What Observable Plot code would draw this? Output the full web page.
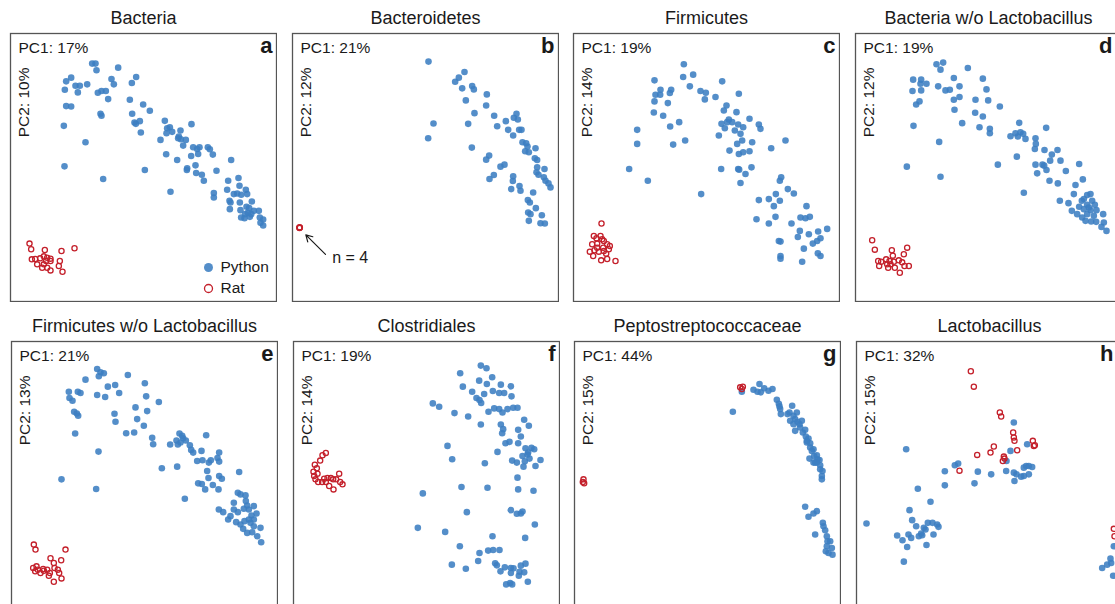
<!DOCTYPE html>
<html><head><meta charset="utf-8">
<script src="https://cdn.jsdelivr.net/npm/d3@7"></script>
<script src="https://cdn.jsdelivr.net/npm/@observablehq/plot@0.6"></script>
<style>
html,body{margin:0;padding:0;background:#fff;width:1115px;height:604px;overflow:hidden;}
#root{position:relative;width:1115px;height:604px;overflow:hidden;}
.panel{position:absolute;}
</style></head><body><div id="root"></div>
<script>
// Panel metadata
const titles = ["Bacteria","Bacteroidetes","Firmicutes","Bacteria w/o Lactobacillus",
  "Firmicutes w/o Lactobacillus","Clostridiales","Peptostreptococcaceae","Lactobacillus"];
const letters = ["a","b","c","d","e","f","g","h"];
const pc1Labels = ["PC1: 17%","PC1: 21%","PC1: 19%","PC1: 19%","PC1: 21%","PC1: 19%","PC1: 44%","PC1: 32%"];
const pc2Labels = ["PC2: 10%","PC2: 12%","PC2: 14%","PC2: 12%","PC2: 13%","PC2: 14%","PC2: 15%","PC2: 15%"];
// score-axis extents (PC1 min, PC2 min) for each panel, arbitrary units
const pc1Min = [30,36,39,45,33,38,43,48];
const pc2Min = [100,100,100,100,108,108,108,108];
const legendLabels = ["Python","Rat"];
const annotationText = "n = 4";

// PC scores (PC1, PC2 flipped: larger = lower)
const aPython = [[275,190],[285,190],[288,210],[353,202],[197,243],[212,232],[193,268],[225,256],[238,256],[232,276],[260,252],
[333,236],[340,252],[407,230],[394,248],[292,277],[303,272],[316,272],[323,296],[197,317],[212,318],[190,376],[300,340],[303,346],
[388,298],[428,312],[448,331],[395,340],[402,366],[406,370],[418,362],[421,396],[255,425],[192,497],[308,535],
[493,361],[500,383],[508,380],[515,394],[498,398],[540,390],[535,408],[533,413],[541,416],[573,371],[480,418],
[497,461],[530,478],[548,435],[556,418],[578,440],[590,445],[597,440],[593,460],[585,494],[560,503],[559,508],[587,517],[604,522],[610,540],[622,440],[628,446],[637,462],[572,466],
[433,508],[510,573],[648,510],[640,577],[640,590],[692,478],[714,532],[717,555],[683,540],[680,567],[700,580],[710,578],[722,582],[740,580],[736,567],[687,600],[690,605],[718,605],[720,628],[688,625],[738,618],[746,622],[754,602],[742,636],[734,640],[722,650],[732,652],[748,648],[775,630],[778,650],[788,656],[780,666],[788,674],[760,630],[752,640]];
const aRat = [[87,728],[92,745],[133,747],[183,750],[222,742],[94,775],[104,774],[119,772],[130,766],[140,770],[150,773],[137,780],[110,790],[130,790],[150,780],[140,800],[150,808],[175,795],[178,780],[186,812],[125,800]];

const bPython = [[444,184],[524,244],[535,232],[552,215],[545,264],[575,257],[580,267],[619,282],[556,300],[617,315],[582,338],[459,369],[443,413],[563,370],[574,441],
[641,346],[650,377],[676,362],[683,388],[700,352],[708,340],[712,357],[716,388],[723,388],[698,405],[726,425],[737,428],[741,438],[734,452],[765,443],[763,473],[745,455],
[626,465],[617,477],[660,498],[672,492],[640,523],[627,535],[698,527],[697,541],[717,556],[692,565],[720,570],[758,575],
[770,478],[770,500],[792,505],[768,515],[774,522],[790,530],[795,540],[810,560],[804,548],
[742,598],[748,605],[766,622],[743,635],[750,640],[745,660],[784,643],[780,667],[793,668]];
const bRat = [[57,680],[57,680],[57,681],[58,680]];
const bArrow = [{from:[135,760], to:[76,702], label:[155,771]}];

const cPython = [[370,192],[368,230],[398,223],[388,258],[485,243],[282,240],[300,268],[332,268],[285,283],[299,283],[328,278],[282,303],[322,308],[280,336],[308,346],[329,378],[356,365],[230,388],[230,430],[338,432],[374,420],[206,505],[262,540],[422,580],
[420,272],[436,277],[433,297],[465,290],[535,280],[498,315],[490,330],[528,335],[505,357],[483,370],[493,383],[475,405],[500,365],[515,365],[533,372],[548,380],[567,355],[595,372],[600,385],[523,390],[540,400],[545,420],[575,425],[507,450],[530,430],[535,460],[548,455],[567,452],[632,443],[675,420],[482,505],[533,505],[536,507],[573,500],[555,520],[540,547],
[662,530],[658,540],[682,565],[700,578],[646,580],[658,600],[595,598],[625,595],[640,616],[645,648],[588,655],[625,668],[693,668],[720,650],[735,652],[748,648],[738,616],[718,690],[745,700],[773,692],[712,708],[800,684],[655,720],[660,722],[770,720],[780,712],[757,728],[730,743],[660,765],[660,773],[725,782],[772,757],[780,765]];
const cRat = [[123,668],[100,705],[108,712],[120,705],[125,715],[95,730],[110,728],[130,720],[140,730],[148,735],[88,752],[102,748],[115,752],[130,750],[145,745],[137,758],[98,765],[122,778],[140,774],[165,780],[110,740],[128,740]];

const dPython = [[288,192],[308,187],[300,208],[382,203],[218,238],[242,238],[216,272],[242,270],[258,250],[240,250],[293,258],[315,270],[328,268],[340,233],[357,258],[427,235],[438,267],[340,298],[357,290],[227,312],[237,303],[342,328],[405,298],[443,300],[478,318],[404,337],[427,348],[219,376],[365,368],[417,380],[448,385],[448,398],[296,424],[199,498],[300,528],
[536,367],[510,407],[525,398],[532,408],[540,395],[548,400],[555,415],[585,413],[617,382],[586,430],[583,445],[612,448],[634,462],[651,448],[629,480],[606,492],[611,495],[660,480],[585,492],[590,518],[618,508],[627,540],[652,548],[676,511],[716,490],[472,492],[529,468],[550,576],[705,553],[727,536],
[700,580],[658,600],[684,607],[694,630],[716,618],[724,600],[740,583],[750,580],[730,595],[740,612],[755,600],[763,612],[750,628],[768,628],[740,640],[725,650],[735,660],[752,662],[767,663],[788,640],[790,665],[783,678],[798,690],[760,645],[745,620],[710,640],[730,625]];
const dRat = [[95,718],[103,746],[154,748],[200,740],[157,764],[113,780],[122,782],[137,775],[147,780],[160,782],[116,795],[143,800],[150,790],[175,778],[185,784],[192,795],[205,795],[140,790],[178,815],[163,800],[190,760]];

const ePython = [[290,190],[300,200],[310,203],[295,212],[382,208],[255,222],[322,243],[344,238],[433,233],[205,258],[232,258],[240,262],[207,277],[216,285],[290,268],[314,274],[356,262],[437,272],[475,289],[221,318],[229,323],[233,330],[342,324],[345,348],[405,305],[440,316],[410,340],[430,360],[377,382],[401,380],[224,383],[455,396],[458,415],[294,437],[183,520],[287,549],
[509,416],[528,404],[537,383],[545,390],[548,397],[556,404],[532,416],[540,410],[568,418],[572,432],[578,440],[590,465],[603,435],[617,388],[606,463],[625,470],[631,463],[656,440],[651,456],[656,467],[620,495],[624,516],[656,510],[664,518],[716,498],[484,487],[530,482],[593,532],[604,534],[637,537],[614,550],[654,550],[553,578],
[712,560],[720,565],[735,568],[700,590],[740,598],[760,600],[745,610],[730,608],[768,622],[753,628],[700,610],[712,618],[655,610],[668,618],[683,640],[690,630],[707,648],[720,655],[732,645],[750,650],[760,660],[780,665],[740,680],[755,678],[770,690],[782,708],[728,668],[745,640],[760,640],[736,585]];
const eRat = [[100,715],[105,730],[195,730],[150,756],[182,762],[160,770],[98,785],[104,795],[112,790],[120,800],[130,793],[140,790],[148,800],[162,785],[172,790],[176,800],[160,826],[183,816],[108,780],[128,788],[145,808]];

const fPython = [[600,180],[617,188],[538,203],[595,225],[634,215],[618,235],[660,237],[690,242],[546,243],[574,258],[610,265],[636,256],[655,262],[670,262],[692,272],[587,277],[596,283],[601,292],[456,293],[475,303],[521,322],[562,332],[623,318],[640,308],[655,310],[665,320],[680,310],[697,306],[710,306],[600,356],[660,356],[667,370],[730,342],[744,360],[712,372],[664,382],[720,392],[712,412],[500,420],[514,460],[612,472],[650,438],[674,412],[686,408],[734,427],[752,426],[760,430],[742,440],[725,450],[746,458],[732,466],[779,462],[694,464],[708,470],[728,482],[764,480],[740,446],[710,515],
[426,562],[542,543],[620,545],[712,550],[758,554],[558,618],[690,612],[708,623],[720,622],[725,616],[762,655],[411,665],[493,677],[635,690],[733,695],
[537,720],[596,740],[622,733],[637,731],[656,731],[592,764],[643,771],[648,777],[513,775],[555,787],[672,783],[690,785],[698,786],[720,778],[734,772],[659,795],[690,800],[716,796],[730,798],[676,834],[688,830],[694,834],[741,826],[714,808]];
const fRat = [[135,441],[125,448],[118,464],[102,476],[108,487],[98,497],[110,503],[100,510],[104,520],[112,528],[130,518],[140,516],[150,516],[157,520],[166,520],[175,503],[178,528],[185,535],[135,528],[145,540],[158,550],[124,528]];

const gPython = [[518,318],[545,258],[580,252],[598,235],[612,248],[625,255],[592,258],[602,260],[637,250],[650,282],[656,294],[660,310],[662,325],[658,302],[682,325],[696,300],[688,320],[690,345],[700,330],[710,320],[705,340],[712,348],[705,375],[718,355],[720,365],[725,345],[728,380],[735,372],[737,392],[740,405],[745,398],[750,412],[750,425],[748,458],[755,435],[760,430],[762,450],[770,448],[772,460],[765,470],[778,462],[780,478],[780,490],[787,495],[785,510],[785,520],[770,470],[760,470],[740,410],[700,355],
[735,602],[745,632],[760,622],[770,615],[788,650],[790,660],[795,672],[765,685],[800,690],[802,705],[810,705],[815,725],[817,745],[800,720],[797,735],[805,740]];
const gRat = [[540,245],[545,250],[548,243],[70,520],[72,532],[68,528]];

const hPython = [[197,430],[520,350],[510,435],[560,415],[343,478],[353,473],[313,496],[313,538],[232,548],[412,497],[452,505],[497,495],[498,465],[402,532],[520,500],[528,505],[522,525],[542,512],[550,485],[557,480],[565,480],[575,483],[565,505],[550,510],[270,587],[207,612],[215,642],[227,660],[250,665],[262,650],[276,650],[290,655],[294,662],[279,685],[170,688],[186,702],[204,685],[212,695],[235,690],[245,687],[255,670],[242,682],[200,722],[258,716],[190,766],[78,652],
[785,785],[800,775],[810,757],[820,720],[818,808],[812,770]];
const hRat = [[391,197],[400,243],[478,320],[482,332],[518,380],[520,395],[522,405],[530,433],[577,405],[580,420],[583,418],[460,422],[450,440],[410,447],[490,452],[492,458],[487,465],[357,494],[820,668],[822,690]];

const pythonSets = [aPython,bPython,cPython,dPython,ePython,fPython,gPython,hPython];
const ratSets = [aRat,bRat,cRat,dRat,eRat,fRat,gRat,hRat];

// layout (pixels)
const panelLeft = [10,292,573,855,11,293,574,856];
const panelTop = [33,33,33,33,341,341,341,341];
const letterInset = [-4,-4,-4,-9,-4,-4,-4,-9];
const W = 266, H = 267, MT = 34;
const blue = "#3c7ec2", red = "#c4202b", ink = "#1a1a1a";
const font = "'Liberation Sans', Arial, Helvetica, sans-serif";

const root = document.getElementById("root");
titles.forEach((title, i) => {
  const x0 = pc1Min[i], y0 = pc2Min[i];
  const marks = [
    Plot.frame({stroke: "#555", strokeWidth: 1.3}),
    Plot.dot(pythonSets[i], {x: d => d[0], y: d => d[1], r: 3.3, fill: blue, fillOpacity: 0.88}),
    Plot.dot(ratSets[i], {x: d => d[0], y: d => d[1], r: 2.6, stroke: red, strokeWidth: 1.3, fill: "none"}),
    Plot.text([title], {text: d => d, frameAnchor: "top", dy: -10, lineAnchor: "bottom", fontSize: 18, fill: ink}),
    Plot.text([pc1Labels[i]], {text: d => d, frameAnchor: "top-left", textAnchor: "start", dx: 8, dy: 19, lineAnchor: "bottom", fontSize: 15.5, fill: ink}),
    Plot.text([letters[i]], {text: d => d, frameAnchor: "top-right", textAnchor: "end", dx: letterInset[i], dy: 19, lineAnchor: "bottom", fontSize: 22, fontWeight: "bold", fill: ink}),
    Plot.text([pc2Labels[i]], {text: d => d, frameAnchor: "top-left", textAnchor: "end", rotate: -90, dx: 14, dy: 34, lineAnchor: "middle", fontSize: 15.5, fill: ink})
  ];
  if (i === 0) {
    marks.push(
      Plot.dot([legendLabels[0]], {frameAnchor: "bottom-right", dx: -68, dy: -34, r: 4.5, fill: blue, fillOpacity: 0.88}),
      Plot.dot([legendLabels[1]], {frameAnchor: "bottom-right", dx: -68, dy: -13, r: 4, stroke: red, strokeWidth: 1.3, fill: "none"}),
      Plot.text([legendLabels[0]], {text: d => d, frameAnchor: "bottom-right", textAnchor: "start", lineAnchor: "middle", dx: -56, dy: -34, fontSize: 15.5, fill: ink}),
      Plot.text([legendLabels[1]], {text: d => d, frameAnchor: "bottom-right", textAnchor: "start", lineAnchor: "middle", dx: -56, dy: -13, fontSize: 15.5, fill: ink})
    );
  }
  if (i === 1) {
    marks.push(
      Plot.arrow(bArrow, {x1: d => d.from[0], y1: d => d.from[1], x2: d => d.to[0], y2: d => d.to[1], stroke: ink, strokeWidth: 1.2, headLength: 9}),
      Plot.text(bArrow, {x: d => d.label[0], y: d => d.label[1], text: () => annotationText, textAnchor: "start", lineAnchor: "middle", fontSize: 16, fill: ink})
    );
  }
  const svg = Plot.plot({
    width: W + 2, height: H + MT + 2,
    marginTop: MT, marginLeft: 1, marginRight: 1, marginBottom: 1,
    x: {domain: [x0, x0 + 798], axis: null},
    y: {domain: [y0 + 801, y0], axis: null},
    style: {fontFamily: font, background: "transparent"},
    marks
  });
  svg.classList.add("panel");
  svg.style.left = (panelLeft[i] - 1) + "px";
  svg.style.top = (panelTop[i] - MT) + "px";
  root.appendChild(svg);
});
</script>
</body></html>
